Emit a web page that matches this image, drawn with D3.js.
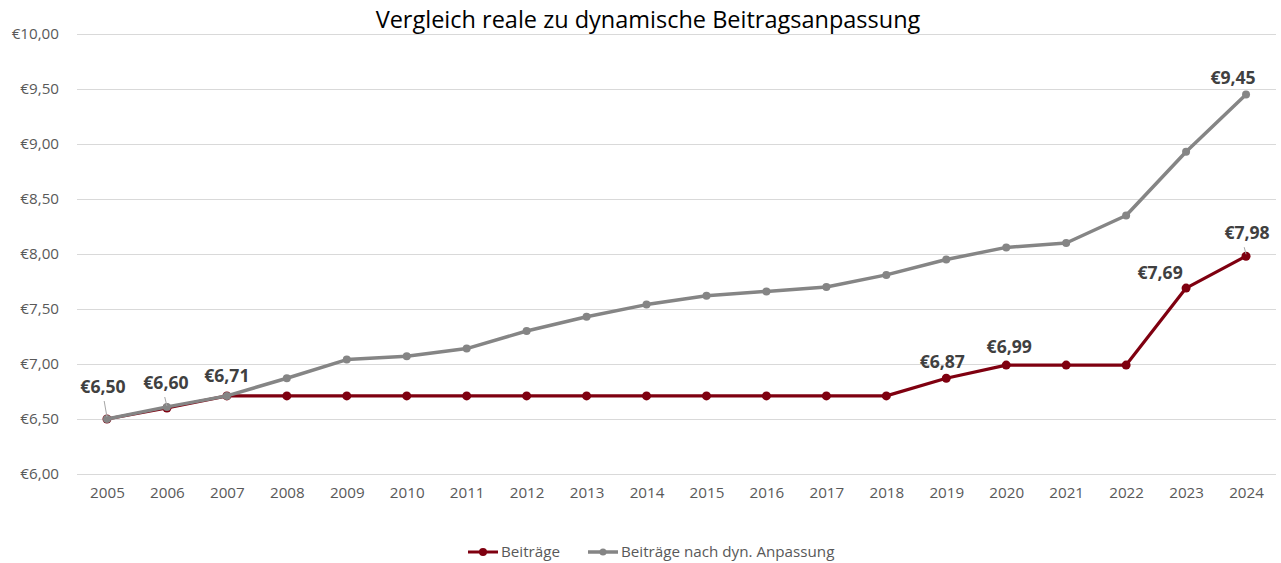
<!DOCTYPE html>
<html>
<head>
<meta charset="utf-8">
<script src="https://cdn.jsdelivr.net/npm/d3@7"></script>
<style>
  body { margin: 0; background: #fff; }
  svg { display: block; font-family: "Open Sans", sans-serif; }
</style>
</head>
<body>
<svg id="chart" width="1281" height="563"></svg>
<script>
// Jahre und Werte
const years = ['2005', '2006', '2007', '2008', '2009', '2010', '2011', '2012', '2013', '2014',
  '2015', '2016', '2017', '2018', '2019', '2020', '2021', '2022', '2023', '2024'];
const beitraege = [6.50, 6.60, 6.71, 6.71, 6.71, 6.71, 6.71, 6.71, 6.71, 6.71,
  6.71, 6.71, 6.71, 6.71, 6.87, 6.99, 6.99, 6.99, 7.69, 7.98];
const beitraegeDyn = [6.50, 6.61, 6.71, 6.87, 7.04, 7.07, 7.14, 7.30, 7.43, 7.54,
  7.62, 7.66, 7.70, 7.81, 7.95, 8.06, 8.10, 8.35, 8.93, 9.45];
const yTicks = [6, 6.5, 7, 7.5, 8, 8.5, 9, 9.5, 10];
const seriesNames = ['Beiträge', 'Beiträge nach dyn. Anpassung'];

// welche Punkte beschriftet werden (Index), mit Versatz der Beschriftung
const redLabels = [
  { i: 0, dx: -4, dy: -26, leader: true },
  { i: 1, dx: -1, dy: -19, leader: true },
  { i: 2, dx: 0, dy: -14 },
  { i: 14, dx: -4, dy: -10 },
  { i: 15, dx: 3, dy: -12 },
  { i: 18, dx: -26, dy: -9 },
  { i: 19, dx: 1, dy: -17, leader: true }
];
const grayLabels = [
  { i: 19, dx: -13, dy: -11 }
];

const svg = d3.select('#chart');
const margin = { top: 34, right: 5, bottom: 89, left: 77 };
const width = 1281, height = 563;

const x = d3.scalePoint()
  .domain(years)
  .range([margin.left, width - margin.right])
  .padding(0.5);

const y = d3.scaleLinear()
  .domain([6, 10])
  .range([height - margin.bottom, margin.top]);

const fmt = (v) => '€' + d3.format('.2f')(v).replace('.', ',');

// Gitterlinien
svg.append('g')
  .selectAll('line')
  .data(yTicks)
  .join('line')
  .attr('x1', margin.left)
  .attr('x2', width - margin.right)
  .attr('y1', (d) => Math.round(y(d)) + 0.5)
  .attr('y2', (d) => Math.round(y(d)) + 0.5)
  .attr('stroke', '#d9d9d9')
  .attr('stroke-width', 1);

// y-Achse
const yAxis = svg.append('g')
  .attr('transform', `translate(${margin.left},0)`)
  .call(d3.axisLeft(y).tickValues(yTicks).tickSize(0).tickPadding(18).tickFormat(fmt));
yAxis.select('.domain').remove();
yAxis.selectAll('text')
  .attr('fill', '#595959')
  .style('font-size', '15.2px')
  .style('font-family', '"Open Sans", sans-serif');

// x-Achse
const xAxis = svg.append('g')
  .attr('transform', `translate(0,${y(6)})`)
  .call(d3.axisBottom(x).tickSize(0).tickPadding(13));
xAxis.select('.domain').remove();
xAxis.selectAll('text')
  .attr('fill', '#595959')
  .style('font-size', '15.2px')
  .style('font-family', '"Open Sans", sans-serif');

const line = d3.line()
  .x((d, i) => x(years[i]))
  .y((d) => y(d));

// Beiträge (rot)
svg.append('path')
  .datum(beitraege)
  .attr('d', line)
  .attr('fill', 'none')
  .attr('stroke', '#7f0010')
  .attr('stroke-width', 3.2)
  .attr('stroke-linejoin', 'round');

svg.append('g')
  .selectAll('circle')
  .data(beitraege)
  .join('circle')
  .attr('cx', (d, i) => x(years[i]))
  .attr('cy', (d) => y(d))
  .attr('r', 4.5)
  .attr('fill', '#7f0010');

// dynamische Anpassung (grau)
svg.append('path')
  .datum(beitraegeDyn)
  .attr('d', line)
  .attr('fill', 'none')
  .attr('stroke', '#858585')
  .attr('stroke-width', 3.5)
  .attr('stroke-linejoin', 'round');

svg.append('g')
  .selectAll('circle')
  .data(beitraegeDyn)
  .join('circle')
  .attr('cx', (d, i) => x(years[i]))
  .attr('cy', (d) => y(d))
  .attr('r', 4)
  .attr('fill', '#858585');

// Datenbeschriftungen
function addLabels(values, labels) {
  labels.forEach((l) => {
    const px = x(years[l.i]);
    const py = y(values[l.i]);
    if (l.leader) {
      svg.append('line')
        .attr('x1', px + l.dx * 0.2 - 2)
        .attr('y1', py + l.dy + 8)
        .attr('x2', px)
        .attr('y2', py - 2)
        .attr('stroke', '#a6a6a6')
        .attr('stroke-width', 1);
    }
    svg.append('text')
      .attr('x', px + l.dx)
      .attr('y', py + l.dy)
      .attr('text-anchor', 'middle')
      .attr('fill', '#404040')
      .style('font-size', '17.6px')
      .style('font-weight', 'bold')
      .text(fmt(values[l.i]));
  });
}
addLabels(beitraege, redLabels);
addLabels(beitraegeDyn, grayLabels);

// Titel
svg.append('text')
  .attr('x', 648)
  .attr('y', 28)
  .attr('text-anchor', 'middle')
  .attr('fill', '#000')
  .style('font-size', '23.5px')
  .text('Vergleich reale zu dynamische Beitragsanpassung');

// Legende
const legendItems = [
  { name: seriesNames[0], color: '#7f0010', x: 468, w: 3, r: 4 },
  { name: seriesNames[1], color: '#858585', x: 588, w: 3.5, r: 3.5 }
];
const legend = svg.append('g').attr('transform', 'translate(0,552)');
legendItems.forEach((it) => {
  legend.append('line')
    .attr('x1', it.x).attr('x2', it.x + 30)
    .attr('y1', 0).attr('y2', 0)
    .attr('stroke', it.color)
    .attr('stroke-width', it.w);
  legend.append('circle')
    .attr('cx', it.x + 15).attr('cy', 0)
    .attr('r', it.r)
    .attr('fill', it.color);
  legend.append('text')
    .attr('x', it.x + 33)
    .attr('y', 5)
    .attr('fill', '#595959')
    .style('font-size', '15.2px')
    .text(it.name);
});
</script>
</body>
</html>
